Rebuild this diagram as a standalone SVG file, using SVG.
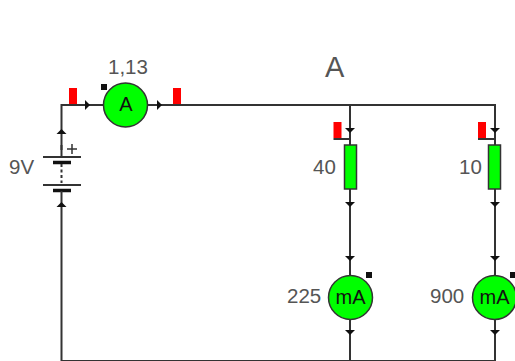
<svg xmlns="http://www.w3.org/2000/svg" width="515" height="361" viewBox="0 0 515 361">
<defs>
<polygon id="ad" points="-5,-2 5,-2 0,3" fill="#111"/>
<polygon id="au" points="-5,2 5,2 0,-3" fill="#111"/>
<polygon id="ar" points="-2,-5 -2,5 3,0" fill="#111"/>
</defs>
<style>
.w{fill:none;stroke:#333;stroke-width:2}
.m{fill:#00ff00;stroke:#333;stroke-width:1.5}
.t{font-family:"Liberation Sans",Arial,sans-serif;font-size:20.500px;fill:#555}
.k{font-family:"Liberation Sans",Arial,sans-serif;font-size:20px;fill:#111;text-anchor:middle}
.r{fill:#ff0000}
.d{fill:#111}
</style>
<g id="connectors">
<path class="w" d="M61.500 361V105H495V361"/>
<path class="w" d="M350 105V361"/>
<path class="w" d="M61.500 361H495"/>
<path class="w" d="M333.500 139H350M478 139H495"/>
<use href="#ar" x="87" y="105"/><use href="#ar" x="159" y="105"/>
<use href="#au" x="61.500" y="132"/><use href="#au" x="61.500" y="205"/>
<use href="#ad" x="350" y="130"/><use href="#ad" x="350" y="204"/><use href="#ad" x="350" y="258"/><use href="#ad" x="350" y="332"/>
<use href="#ad" x="495" y="130"/><use href="#ad" x="495" y="204"/><use href="#ad" x="495" y="258"/><use href="#ad" x="495" y="332"/>
</g>
<g id="probes">
<rect class="r" x="69" y="88" width="8" height="16"/>
<rect class="r" x="173" y="88" width="8" height="16"/>
<rect class="r" x="333.500" y="122" width="8" height="16"/>
<rect class="r" x="478" y="122" width="8" height="16"/>
</g>
<g id="battery">
<rect x="55" y="150" width="12" height="50" fill="#fff"/>
<path d="M43 157H81M43 185H81" stroke="#333" stroke-width="2" fill="none"/>
<path d="M53 162.500H71M53 190.500H71" stroke="#111" stroke-width="3.500" fill="none"/>
<path d="M61.500 164V183" stroke="#333" stroke-width="2" stroke-dasharray="3 2.500" fill="none"/>
<path d="M61.500 145V157M61.500 191V200" stroke="#333" stroke-width="2" fill="none"/>
<path d="M67 149H77M72 144V154" stroke="#333" stroke-width="1.500" fill="none"/>
<text class="t" x="9" y="174">9V</text>
</g>
<g id="ammeter-main">
<circle class="m" cx="125.500" cy="105" r="22"/>
<rect class="d" x="101" y="84" width="6" height="6"/>
<text class="k" x="126" y="111">A</text>
<text class="t" x="108" y="74">1,13</text>
</g>
<text class="t" id="label-a" x="325" y="77" style="font-size:29px">A</text>
<g id="resistor-40">
<rect class="m" x="344.500" y="145" width="12" height="44"/>
<text class="t" x="313" y="174">40</text>
</g>
<g id="resistor-10">
<rect class="m" x="488.500" y="145" width="12" height="44"/>
<text class="t" x="459" y="174">10</text>
</g>
<g id="ammeter-225">
<circle class="m" cx="350.500" cy="297.500" r="22"/>
<rect class="d" x="366" y="272" width="6" height="6"/>
<text class="k" x="350.500" y="304">mA</text>
<text class="t" x="287" y="303">225</text>
</g>
<g id="ammeter-900">
<circle class="m" cx="494.500" cy="297.500" r="22"/>
<rect class="d" x="510" y="272" width="5" height="6"/>
<text class="k" x="494.500" y="304">mA</text>
<text class="t" x="430" y="303">900</text>
</g>
</svg>
